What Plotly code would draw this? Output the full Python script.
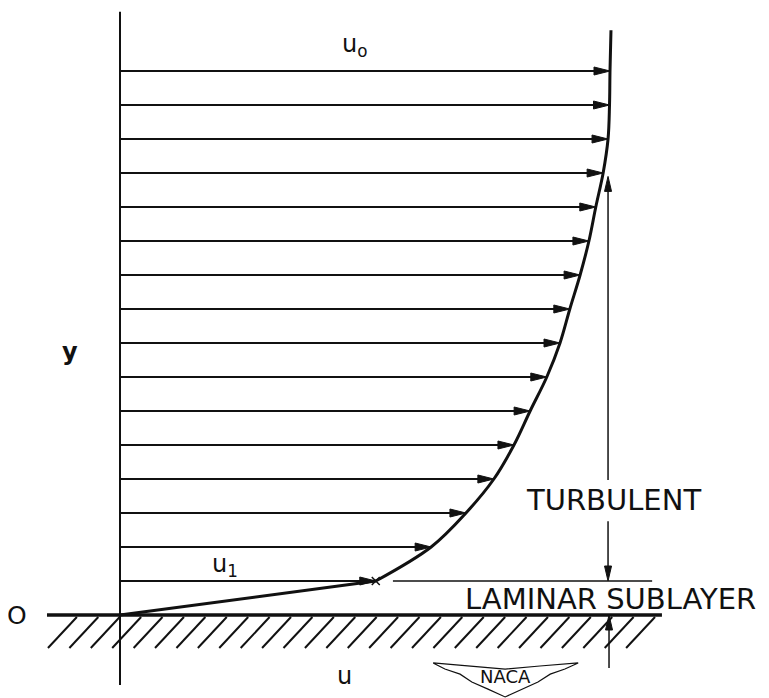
import plotly.graph_objects as go

# ---------------- data (u normalised by u0, y in units of arrow spacing) ----------------
Y_LEVELS = [1, 2, 3, 4, 5, 6, 7, 8, 9, 10, 11, 12, 13, 14, 15, 16]
U_PROFILE = [0.522, 0.635, 0.706, 0.763, 0.804, 0.837, 0.871, 0.898,
             0.918, 0.939, 0.957, 0.971, 0.986, 0.996, 0.999, 1.0]
U_TOP, Y_TOP = 1.002, 17.2          # top end of the free-stream line
LAMINAR_U = [0.0, 0.522]            # laminar sublayer: linear profile
LAMINAR_Y = [0.0, 1.0]
Y_SUBLAYER = 1.0                     # edge of laminar sublayer
Y_TURB_TOP = 12.9                    # top of "turbulent" dimension arrow
DIM_U = 0.996                        # x of the dimension arrows
AXIS_Y_RANGE = [-2.06, 17.74]        # left reference line
WALL_U = [-0.149, 1.106]
SUBLAYER_LINE_U = [0.557, 1.086]

LABEL_U0 = "u<sub>o</sub>"
LABEL_U1 = "u<sub>1</sub>"

# hatch (decoration below the wall)
HATCH_START_U = -0.147
HATCH_STEP_U = 0.0437
HATCH_COUNT = 28
HATCH_DU = 0.059
HATCH_Y = [-0.97, -0.06]

# NACA logo outline (data units)
LOGO_U = [0.639, 0.714, 0.786, 0.857, 0.935, 0.908, 0.878, 0.853, 0.820, 0.786,
          0.751, 0.718, 0.694, 0.663, 0.639]
LOGO_Y = [-1.41, -1.50, -1.59, -1.50, -1.41, -1.59, -1.74, -1.97, -2.18, -2.41,
          -2.18, -1.97, -1.74, -1.59, -1.41]

# ---------------- figure ----------------
fig = go.Figure()
BLACK = "#111111"

# left reference line (y axis)
fig.add_trace(go.Scatter(x=[0, 0], y=AXIS_Y_RANGE, mode="lines",
                         line=dict(color=BLACK, width=2), hoverinfo="skip"))
# wall
fig.add_trace(go.Scatter(x=WALL_U, y=[0, 0], mode="lines",
                         line=dict(color=BLACK, width=3.5), hoverinfo="skip"))
# hatch
hx, hy = [], []
for k in range(HATCH_COUNT):
    u0 = HATCH_START_U + k * HATCH_STEP_U
    hx += [u0, u0 + HATCH_DU, None]
    hy += [HATCH_Y[0], HATCH_Y[1], None]
fig.add_trace(go.Scatter(x=hx, y=hy, mode="lines",
                         line=dict(color=BLACK, width=2), hoverinfo="skip"))

# velocity arrows (shafts)
ax, ay = [], []
for u, y in zip(U_PROFILE, Y_LEVELS):
    ax += [0, u - 0.01, None]
    ay += [y, y, None]
fig.add_trace(go.Scatter(x=ax, y=ay, mode="lines",
                         line=dict(color=BLACK, width=2.2), hoverinfo="skip"))

# profile: laminar part + turbulent part
fig.add_trace(go.Scatter(x=LAMINAR_U, y=LAMINAR_Y, mode="lines",
                         line=dict(color=BLACK, width=3), hoverinfo="skip"))
fig.add_trace(go.Scatter(x=U_PROFILE + [U_TOP], y=Y_LEVELS + [Y_TOP], mode="lines",
                         line=dict(color=BLACK, width=3, shape="spline", smoothing=1.0),
                         hoverinfo="skip"))
# cross at the sublayer edge
fig.add_trace(go.Scatter(x=[U_PROFILE[0]], y=[Y_SUBLAYER], mode="markers",
                         marker=dict(symbol="x-thin-open", size=8, color=BLACK,
                                     line=dict(color=BLACK, width=1.5)),
                         hoverinfo="skip"))

# sublayer edge line
fig.add_trace(go.Scatter(x=SUBLAYER_LINE_U, y=[Y_SUBLAYER, Y_SUBLAYER], mode="lines",
                         line=dict(color=BLACK, width=1.5), hoverinfo="skip"))

# dimension arrows (shafts)
fig.add_trace(go.Scatter(
    x=[DIM_U, DIM_U, None, DIM_U, DIM_U, None, DIM_U + 0.002, DIM_U + 0.002],
    y=[3.97, Y_TURB_TOP - 0.2, None, 2.76, Y_SUBLAYER + 0.2, None, -1.56, -0.2],
    mode="lines", line=dict(color=BLACK, width=1.5), hoverinfo="skip"))

shapes = []
# horizontal arrowheads
for u, y in zip(U_PROFILE, Y_LEVELS):
    shapes.append(dict(type="path", xref="x", yref="y", xsizemode="pixel", ysizemode="pixel",
                       xanchor=u, yanchor=y, path="M0,0 L-16,4 L-16,-4 Z",
                       fillcolor=BLACK, line=dict(color=BLACK, width=1)))
# vertical arrowheads
up = "M0,0 L-3.5,-15 L3.5,-15 Z"
down = "M0,0 L-3.5,15 L3.5,15 Z"
for (u, y, p) in [(DIM_U, Y_TURB_TOP, up), (DIM_U, Y_SUBLAYER, down), (DIM_U + 0.002, 0.0, up)]:
    shapes.append(dict(type="path", xref="x", yref="y", xsizemode="pixel", ysizemode="pixel",
                       xanchor=u, yanchor=y, path=p,
                       fillcolor=BLACK, line=dict(color=BLACK, width=1)))

# NACA logo outline
fig.add_trace(go.Scatter(x=LOGO_U, y=LOGO_Y, mode="lines",
                         line=dict(color=BLACK, width=1.2), hoverinfo="skip"))

FONT = "DejaVu Sans"
annotations = [
    dict(x=0.480, y=16.75, text=LABEL_U0, font=dict(size=24)),
    dict(x=-0.102, y=7.75, text="y", font=dict(size=24, weight="bold")),
    dict(x=0.215, y=1.45, text=LABEL_U1, font=dict(size=24)),
    dict(x=-0.210, y=0.0, text="O", font=dict(size=25)),
    dict(x=0.459, y=-1.80, text="u", font=dict(size=24)),
    dict(x=1.008, y=3.38, text="TURBULENT", font=dict(size=29)),
    dict(x=1.002, y=0.47, text="LAMINAR SUBLAYER", font=dict(size=29)),
    dict(x=0.786, y=-1.82, text="NACA", font=dict(size=18)),
]
for a in annotations:
    a.update(xref="x", yref="y", showarrow=False, xanchor="center", yanchor="middle")
    a["font"].update(family=FONT, color=BLACK)

# the page body adds an 8 px offset; the ranges below compensate for it
W, H, OFF = 761, 690, 8
X0_PX, Y0_PX, PX_PER_U, PX_PER_Y = 120 - OFF, 615 - OFF, 490.0, 34.0
fig.update_layout(
    width=W, height=H, autosize=False,
    margin=dict(l=0, r=0, t=0, b=0),
    paper_bgcolor="white", plot_bgcolor="white",
    showlegend=False,
    xaxis=dict(range=[-X0_PX / PX_PER_U, (W - X0_PX) / PX_PER_U], visible=False, fixedrange=True),
    yaxis=dict(range=[(Y0_PX - H) / PX_PER_Y, Y0_PX / PX_PER_Y], visible=False, fixedrange=True),
    shapes=shapes, annotations=annotations,
)

fig.write_html("out.html")
